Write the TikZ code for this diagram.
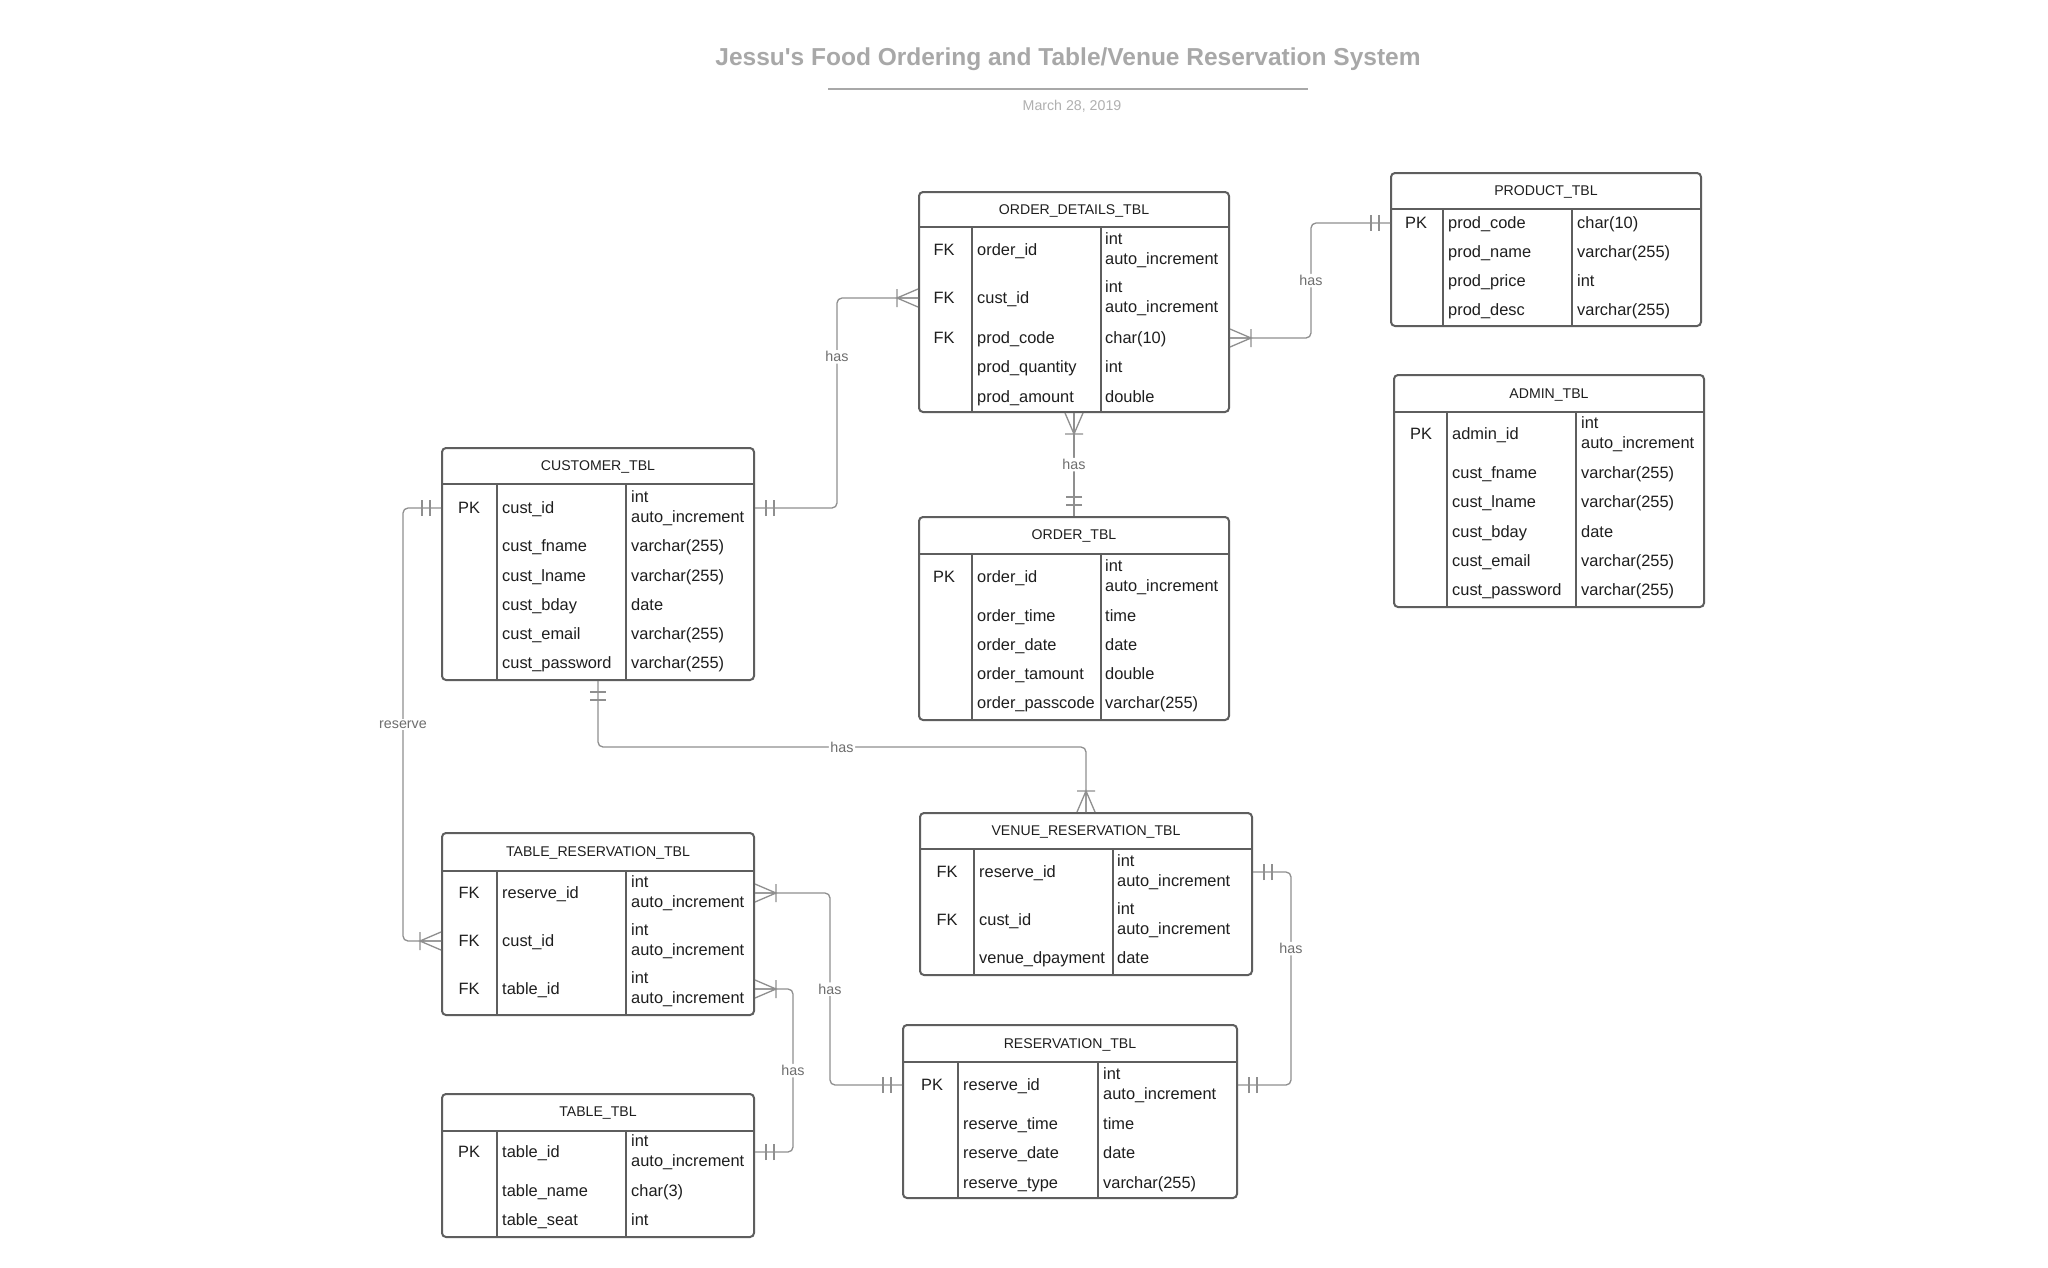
\documentclass[tikz,border=0pt]{standalone}
\usepackage{fontspec}
\setmainfont{Liberation Sans}
\usetikzlibrary{positioning}
\definecolor{tblgray}{HTML}{5E5E5E}
\definecolor{relgray}{HTML}{8F8F8F}
\definecolor{lblgray}{HTML}{6E6E6E}
\definecolor{titlegray}{HTML}{A8A8A8}
\definecolor{dategray}{HTML}{B0B0B0}
\definecolor{ink}{HTML}{1E1E1E}
\newcommand{\rowfont}{\fontsize{16.4}{19.5}\selectfont}
\newcommand{\headfont}{\fontsize{14.1}{17}\selectfont}
\newcommand{\lblfont}{\fontsize{14.3}{17}\selectfont}
\tikzstyle{tblbox} = [rectangle, rounded corners=4pt, draw=tblgray, line width=2pt, inner sep=0pt]
\tikzstyle{tblline} = [draw=tblgray, line width=2pt]
\tikzstyle{headtxt} = [font=\headfont, text=ink, inner sep=0pt, text height=10.1pt, text depth=0pt]
\tikzstyle{keycol} = [font=\rowfont, text=ink, inner sep=0pt, text height=11.8pt, text depth=0pt]
\tikzstyle{fieldcol} = [keycol, anchor=west]
\tikzstyle{typecol} = [font=\rowfont, text=ink, inner sep=0pt, anchor=west, align=left]
\tikzstyle{relline} = [draw=relgray, line width=1.3pt, rounded corners=5pt]
\tikzstyle{relend} = [draw=relgray, line width=1.3pt]
\tikzstyle{rellabel} = [font=\lblfont, text=lblgray, fill=white, inner sep=1.5pt]
\tikzset{
  crow/.pic={\draw [relend] (-21,-9) -- (-21,9) (0,-9) -- (-21,0) -- (0,9) (-21,0) -- (0,0);},
  bars/.pic={\draw [relend] (-11,-8) -- (-11,8) (-19,-8) -- (-19,8);}
}
\begin{document}
\begin{tikzpicture}[x=1pt,y=-1pt]
\fill [white] (0,0) rectangle (2048,1267);
\useasboundingbox (0,0) rectangle (2048,1267);

% title
\node [font=\bfseries\fontsize{24.5}{28}\selectfont, text=titlegray] at (1068,59) (title) {Jessu\textquotesingle s Food Ordering and Table/Venue Reservation System};
\draw [titlegray, line width=1.5pt] (828,89) -- (1308,89);
\node [font=\fontsize{14.2}{17}\selectfont, text=dategray] at (1072,106) (date) {March 28, 2019};

% ORDER_DETAILS_TBL
\node [tblbox, minimum width=310, minimum height=220] at (1074,302) (od) {};
\draw [tblline] (919,227) -- (1229,227) (972,227) -- (972,412) (1101,227) -- (1101,412);
\node [headtxt] at (1074,209) (odhead) {ORDER\_DETAILS\_TBL};
\node [keycol] at (944,250) (odk1) {FK};
\node [fieldcol] at (977,250) (odorder) {order\_id};
\node [typecol] at (1105,250) (odt1) {int\\auto\_increment};
\node [keycol] at (944,298) (odk2) {FK};
\node [fieldcol] at (977,298) (odcust) {cust\_id};
\node [typecol] at (1105,298) (odt2) {int\\auto\_increment};
\node [keycol] at (944,338) (odk3) {FK};
\node [fieldcol] at (977,338) (odcode) {prod\_code};
\node [fieldcol] at (1105,338) (odt3) {char(10)};
\node [fieldcol] at (977,367) (odqty) {prod\_quantity};
\node [fieldcol] at (1105,367) (odt4) {int};
\node [fieldcol] at (977,397) (odamt) {prod\_amount};
\node [fieldcol] at (1105,397) (odt5) {double};

% PRODUCT_TBL
\node [tblbox, minimum width=310, minimum height=153] at (1546,249.5) (prod) {};
\draw [tblline] (1391,209) -- (1701,209) (1443,209) -- (1443,326) (1572,209) -- (1572,326);
\node [headtxt] at (1546,190) (prodhead) {PRODUCT\_TBL};
\node [keycol] at (1416,223) (prodk1) {PK};
\node [fieldcol] at (1448,223) (prodcode) {prod\_code};
\node [fieldcol] at (1577,223) (prodt1) {char(10)};
\node [fieldcol] at (1448,252) (prodname) {prod\_name};
\node [fieldcol] at (1577,252) (prodt2) {varchar(255)};
\node [fieldcol] at (1448,281) (prodprice) {prod\_price};
\node [fieldcol] at (1577,281) (prodt3) {int};
\node [fieldcol] at (1448,310) (proddesc) {prod\_desc};
\node [fieldcol] at (1577,310) (prodt4) {varchar(255)};

% ADMIN_TBL
\node [tblbox, minimum width=310, minimum height=232] at (1549,491) (admin) {};
\draw [tblline] (1394,412) -- (1704,412) (1447,412) -- (1447,607) (1576,412) -- (1576,607);
\node [headtxt] at (1549,393) (adminhead) {ADMIN\_TBL};
\node [keycol] at (1421,434) (admink1) {PK};
\node [fieldcol] at (1452,434) (adminid) {admin\_id};
\node [typecol] at (1581,434) (admint1) {int\\auto\_increment};
\node [fieldcol] at (1452,473) (adminfn) {cust\_fname};
\node [fieldcol] at (1581,473) (admint2) {varchar(255)};
\node [fieldcol] at (1452,502) (adminln) {cust\_lname};
\node [fieldcol] at (1581,502) (admint3) {varchar(255)};
\node [fieldcol] at (1452,532) (adminbd) {cust\_bday};
\node [fieldcol] at (1581,532) (admint4) {date};
\node [fieldcol] at (1452,561) (adminem) {cust\_email};
\node [fieldcol] at (1581,561) (admint5) {varchar(255)};
\node [fieldcol] at (1452,590) (adminpw) {cust\_password};
\node [fieldcol] at (1581,590) (admint6) {varchar(255)};

% CUSTOMER_TBL
\node [tblbox, minimum width=312, minimum height=232] at (598,564) (cust) {};
\draw [tblline] (442,484) -- (754,484) (497,484) -- (497,680) (626,484) -- (626,680);
\node [headtxt] at (598,465) (custhead) {CUSTOMER\_TBL};
\node [keycol] at (469,508) (custk1) {PK};
\node [fieldcol] at (502,508) (custid) {cust\_id};
\node [typecol] at (631,508) (custt1) {int\\auto\_increment};
\node [fieldcol] at (502,546) (custfn) {cust\_fname};
\node [fieldcol] at (631,546) (custt2) {varchar(255)};
\node [fieldcol] at (502,576) (custln) {cust\_lname};
\node [fieldcol] at (631,576) (custt3) {varchar(255)};
\node [fieldcol] at (502,605) (custbd) {cust\_bday};
\node [fieldcol] at (631,605) (custt4) {date};
\node [fieldcol] at (502,634) (custem) {cust\_email};
\node [fieldcol] at (631,634) (custt5) {varchar(255)};
\node [fieldcol] at (502,663) (custpw) {cust\_password};
\node [fieldcol] at (631,663) (custt6) {varchar(255)};

% ORDER_TBL
\node [tblbox, minimum width=310, minimum height=203] at (1074,618.5) (ord) {};
\draw [tblline] (919,554) -- (1229,554) (972,554) -- (972,720) (1101,554) -- (1101,720);
\node [headtxt] at (1074,534) (ordhead) {ORDER\_TBL};
\node [keycol] at (944,577) (ordk1) {PK};
\node [fieldcol] at (977,577) (ordid) {order\_id};
\node [typecol] at (1105,577) (ordt1) {int\\auto\_increment};
\node [fieldcol] at (977,616) (ordtime) {order\_time};
\node [fieldcol] at (1105,616) (ordt2) {time};
\node [fieldcol] at (977,645) (orddate) {order\_date};
\node [fieldcol] at (1105,645) (ordt3) {date};
\node [fieldcol] at (977,674) (ordamt) {order\_tamount};
\node [fieldcol] at (1105,674) (ordt4) {double};
\node [fieldcol] at (977,703) (ordpass) {order\_passcode};
\node [fieldcol] at (1105,703) (ordt5) {varchar(255)};

% TABLE_RESERVATION_TBL
\node [tblbox, minimum width=312, minimum height=182] at (598,924) (tres) {};
\draw [tblline] (442,871) -- (754,871) (497,871) -- (497,1015) (626,871) -- (626,1015);
\node [headtxt] at (598,851) (treshead) {TABLE\_RESERVATION\_TBL};
\node [keycol] at (469,893) (tresk1) {FK};
\node [fieldcol] at (502,893) (trres) {reserve\_id};
\node [typecol] at (631,893) (trest1) {int\\auto\_increment};
\node [keycol] at (469,941) (tresk2) {FK};
\node [fieldcol] at (502,941) (trcust) {cust\_id};
\node [typecol] at (631,941) (trest2) {int\\auto\_increment};
\node [keycol] at (469,989) (tresk3) {FK};
\node [fieldcol] at (502,989) (trtable) {table\_id};
\node [typecol] at (631,989) (trest3) {int\\auto\_increment};

% VENUE_RESERVATION_TBL
\node [tblbox, minimum width=332, minimum height=162] at (1086,894) (venue) {};
\draw [tblline] (920,849) -- (1252,849) (974,849) -- (974,975) (1113,849) -- (1113,975);
\node [headtxt] at (1086,830) (venuehead) {VENUE\_RESERVATION\_TBL};
\node [keycol] at (947,872) (venuek1) {FK};
\node [fieldcol] at (979,872) (vnres) {reserve\_id};
\node [typecol] at (1117,872) (venuet1) {int\\auto\_increment};
\node [keycol] at (947,920) (venuek2) {FK};
\node [fieldcol] at (979,920) (vncust) {cust\_id};
\node [typecol] at (1117,920) (venuet2) {int\\auto\_increment};
\node [fieldcol] at (979,958) (vnpay) {venue\_dpayment};
\node [fieldcol] at (1117,958) (venuet3) {date};

% RESERVATION_TBL
\node [tblbox, minimum width=334, minimum height=173] at (1070,1111.5) (res) {};
\draw [tblline] (903,1062) -- (1237,1062) (958,1062) -- (958,1198) (1098,1062) -- (1098,1198);
\node [headtxt] at (1070,1043) (reshead) {RESERVATION\_TBL};
\node [keycol] at (932,1085) (resk1) {PK};
\node [fieldcol] at (963,1085) (resid) {reserve\_id};
\node [typecol] at (1103,1085) (rest1) {int\\auto\_increment};
\node [fieldcol] at (963,1124) (restime) {reserve\_time};
\node [fieldcol] at (1103,1124) (rest2) {time};
\node [fieldcol] at (963,1153) (resdate) {reserve\_date};
\node [fieldcol] at (1103,1153) (rest3) {date};
\node [fieldcol] at (963,1183) (restype) {reserve\_type};
\node [fieldcol] at (1103,1183) (rest4) {varchar(255)};

% TABLE_TBL
\node [tblbox, minimum width=312, minimum height=143] at (598,1165.5) (tbl) {};
\draw [tblline] (442,1131) -- (754,1131) (497,1131) -- (497,1237) (626,1131) -- (626,1237);
\node [headtxt] at (598,1111) (tblhead) {TABLE\_TBL};
\node [keycol] at (469,1152) (tblk1) {PK};
\node [fieldcol] at (502,1152) (tblid) {table\_id};
\node [typecol] at (631,1152) (tblt1) {int\\auto\_increment};
\node [fieldcol] at (502,1191) (tblname) {table\_name};
\node [fieldcol] at (631,1191) (tblt2) {char(3)};
\node [fieldcol] at (502,1220) (tblseat) {table\_seat};
\node [fieldcol] at (631,1220) (tblt3) {int};

% relationships
\draw [relline] (custid -| cust.east) -- ++(82,0) |- node [rellabel, pos=0.36] {has} (odcust -| od.west);
\pic [rotate=180] at (custid -| cust.east) {bars};
\pic at (odcust -| od.west) {crow};

\draw [relline] (odcode -| od.east) -- ++(81,0) |- node [rellabel, pos=0.25] {has} (prodcode -| prod.west);
\pic [rotate=180] at (odcode -| od.east) {crow};
\pic at (prodcode -| prod.west) {bars};

\draw [relline] (od.south) -- node [rellabel] {has} (ord.north);
\pic [rotate=90] at (od.south) {crow};
\pic [rotate=-90] at (ord.north) {bars};

\draw [relline] (cust.south) -- ++(0,66) -| node [rellabel, pos=0.25] {has} (venue.north);
\pic [rotate=90] at (cust.south) {bars};
\pic [rotate=-90] at (venue.north) {crow};

\draw [relline] (custid -| cust.west) -- ++(-38,0) |- node [rellabel, pos=0.25] {reserve} (trcust -| tres.west);
\pic at (custid -| cust.west) {bars};
\pic at (trcust -| tres.west) {crow};

\draw [relline] (trres -| tres.east) -- ++(75,0) |- node [rellabel, pos=0.25] {has} (resid -| res.west);
\pic [rotate=180] at (trres -| tres.east) {crow};
\pic at (resid -| res.west) {bars};

\draw [relline] (trtable -| tres.east) -- ++(38,0) |- node [rellabel, pos=0.25] {has} (tblid -| tbl.east);
\pic [rotate=180] at (trtable -| tres.east) {crow};
\pic [rotate=180] at (tblid -| tbl.east) {bars};

\draw [relline] (vnres -| venue.east) -- ++(38,0) |- node [rellabel, pos=0.18] {has} (resid -| res.east);
\pic [rotate=180] at (vnres -| venue.east) {bars};
\pic [rotate=180] at (resid -| res.east) {bars};
\end{tikzpicture}
\end{document}
